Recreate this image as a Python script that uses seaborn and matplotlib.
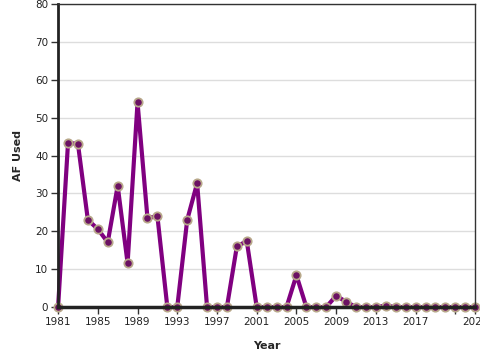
import seaborn as sns
import pandas as pd
import matplotlib.pyplot as plt

# data
years = list(range(1981, 2024))
af_used = [0, 43.3, 43.1, 23, 20.6, 17.1, 32, 11.6, 54, 23.5,
           24, 0, 0, 23, 32.7, 0, 0, 0, 16, 17.4,
           0, 0, 0, 0, 8.4, 0, 0, 0, 3.0, 1.4,
           0, 0, 0, 0.4, 0, 0, 0, 0, 0, 0,
           0, 0, 0]
tick_years = list(range(1981, 2022, 4)) + [2023]
tick_labels = [str(y) for y in range(1981, 2018, 4)] + ['', '2023']

df = pd.DataFrame({'Year': years, 'AF Used': af_used})

sns.set_style('white')
plt.rcParams['font.family'] = ['DejaVu Sans']
fig = plt.figure(figsize=(4.8, 3.6), dpi=100)
ax = fig.add_axes([0.121, 0.147, 0.869, 0.842])

sns.lineplot(x='Year', y='AF Used', data=df, color='#800080', lw=3,
             marker='o', markersize=6, markerfacecolor='#6b1163',
             markeredgecolor='#b8a88a', markeredgewidth=1.3, clip_on=False, ax=ax)

ax.set_xlim(1981, 2023)
ax.set_ylim(0, 80)
ax.set_yticks(range(0, 81, 10))
ax.set_xticks(tick_years)
ax.set_xticklabels(tick_labels)
ax.yaxis.grid(True, color='#dddddd', lw=1)
ax.set_axisbelow(True)
ax.tick_params(axis='both', direction='out', length=5, width=1, color='#333333',
               labelsize=7.5, labelcolor='#222222', bottom=True, left=True, pad=2)

for side in ['top', 'right']:
    ax.spines[side].set_color('#333333')
    ax.spines[side].set_linewidth(1)
ax.spines['left'].set_color('#222222')
ax.spines['left'].set_linewidth(2)
ax.spines['bottom'].set_color('#222222')
ax.spines['bottom'].set_linewidth(2.5)

ax.set_xlabel('Year', fontsize=8, fontweight='bold', labelpad=10)
ax.set_ylabel('AF Used', fontsize=8, fontweight='bold', labelpad=9)

plt.savefig('out.png', dpi=100)
